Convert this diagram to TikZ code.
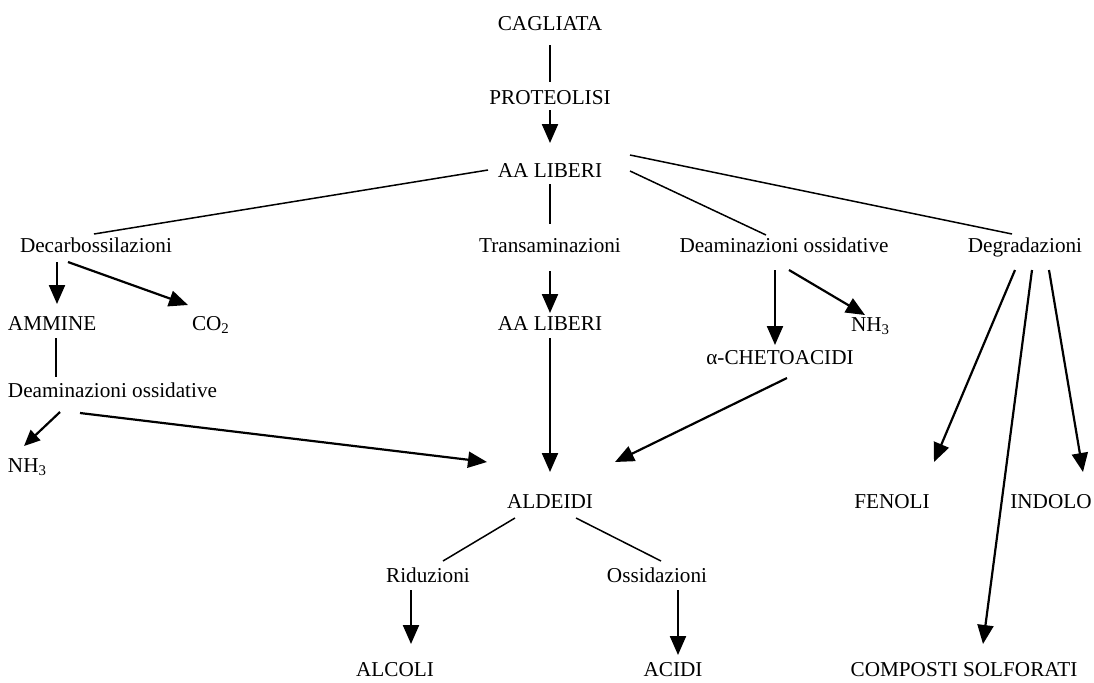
\documentclass[tikz,border=0pt]{standalone}
\usepackage{fontspec}
\setmainfont{Liberation Serif}
\usetikzlibrary{arrows.meta,calc}
\begin{document}
\begin{tikzpicture}[x=0.5pt,y=-0.5pt,
  lbl/.style={inner sep=0pt,outer sep=0pt,anchor=base,font=\fontsize{10.6}{12}\selectfont},
  lblw/.style={lbl,anchor=base west},
  ln/.style={line width=0.75pt},
  arr/.style={line width=1.1pt,-{Triangle[length=9.5pt,width=8pt]}},
  sarr/.style={line width=1.1pt,-{Triangle[length=8pt,width=7pt]}}]
\useasboundingbox (0,0) rectangle (1094,682);
% nodes
\node[lbl]  (cag)  at (550,30)  {CAGLIATA};
\node[lbl]  (prot) at (550,104) {PROTEOLISI};
\node[lbl]  (aa)   at (550,177) {AA LIBERI};
\node[lblw] (dec)  at (20,252)  {Decarbossilazioni};
\node[lbl]  (tra)  at (550,252) {Transaminazioni};
\node[lbl]  (dea)  at (784,252) {Deaminazioni ossidative};
\node[lbl]  (deg)  at (1025,252) {Degradazioni};
\node[lblw] (amm)  at (8,330)   {AMMINE};
\node[lblw] (co2)  at (192,330) {CO\textsubscript{2}};
\node[lbl]  (aa2)  at (550,330) {AA LIBERI};
\node[lblw] (nh3r) at (851,331) {NH\textsubscript{3}};
\node[lbl]  (chet) at (780,364) {α-CHETOACIDI};
\node[lblw] (dea2) at (8,397)   {Deaminazioni ossidative};
\node[lblw] (nh3l) at (8,472)   {NH\textsubscript{3}};
\node[lbl]  (ald)  at (550,508) {ALDEIDI};
\node[lbl]  (fen)  at (892,508) {FENOLI};
\node[lbl]  (ind)  at (1051,508) {INDOLO};
\node[lbl]  (rid)  at (428,582) {Riduzioni};
\node[lbl]  (oss)  at (657,582) {Ossidazioni};
\node[lbl]  (alc)  at (395,676) {ALCOLI};
\node[lbl]  (aci)  at (673,676) {ACIDI};
\node[lbl]  (com)  at (964,676) {COMPOSTI SOLFORATI};
% connectors
\draw[ln]  ($(cag.base)+(0,15)$)  -- ($(prot.base)+(0,-22)$);
\draw[arr] ($(prot.base)+(0,6)$)  -- ($(aa.base)+(0,-34)$);
\draw[ln]  ($(aa.base)+(-62,-7)$) -- ($(dec.base west)+(74,-18)$);
\draw[ln]  ($(aa.base)+(0,7)$)    -- ($(tra.base)+(0,-28)$);
\draw[ln]  ($(aa.base)+(80,-6)$)  -- ($(dea.base)+(-18,-17)$);
\draw[ln]  ($(aa.base)+(80,-22)$) -- ($(deg.base)+(-13,-18)$);
\draw[arr] ($(dec.base west)+(37,10)$) -- ($(amm.base west)+(49,-26)$);
\draw[arr] ($(dec.base west)+(48,10)$) -- ($(co2.base west)+(-4,-25)$);
\draw[arr] ($(tra.base)+(0,19)$)  -- ($(aa2.base)+(0,-17)$);
\draw[arr] ($(dea.base)+(-9,18)$) -- ($(chet.base)+(-5,-19)$);
\draw[arr] ($(dea.base)+(5,18)$)  -- ($(nh3r.base west)+(14,-16)$);
\draw[ln]  ($(amm.base west)+(48,8)$) -- ($(dea2.base west)+(48,-20)$);
\draw[sarr] ($(dea2.base west)+(52,15)$) -- ($(nh3l.base west)+(16,-26)$);
\draw[arr] ($(dea2.base west)+(72,16)$) -- ($(ald.base)+(-63,-46)$);
\draw[arr] ($(aa2.base)+(0,8)$)   -- ($(ald.base)+(0,-36)$);
\draw[arr] ($(chet.base)+(7,14)$) -- ($(ald.base)+(65,-46)$);
\draw[arr] ($(deg.base)+(-10,18)$) -- ($(fen.base)+(42,-46)$);
\draw[arr] ($(deg.base)+(7,18)$)  -- ($(com.base)+(19,-32)$);
\draw[arr] ($(deg.base)+(24,18)$) -- ($(ind.base)+(32,-36)$);
\draw[ln]  ($(ald.base)+(-35,10)$) -- ($(rid.base)+(15,-21)$);
\draw[ln]  ($(ald.base)+(26,10)$) -- ($(oss.base)+(4,-21)$);
\draw[arr] ($(rid.base)+(-17,8)$) -- ($(alc.base)+(16,-32)$);
\draw[arr] ($(oss.base)+(21,8)$)  -- ($(aci.base)+(5,-21)$);
\end{tikzpicture}
\end{document}
